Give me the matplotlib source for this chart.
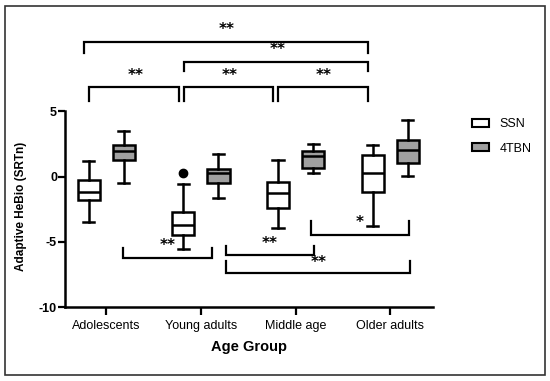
import matplotlib.pyplot as plt
from matplotlib.patches import Patch, Rectangle

plt.rcParams['font.family'] = ['Liberation Sans', 'DejaVu Sans']

groups = ["Adolescents", "Young adults", "Middle age", "Older adults"]

# whisker low, Q1, median, Q3, whisker high
ssn = [[-3.48, -1.82, -1.18, -0.28, 1.2],
       [-5.52, -4.5, -3.73, -2.71, -0.59],
       [-3.94, -2.38, -1.23, -0.41, 1.3],
       [-3.81, -1.18, 0.28, 1.64, 2.4]]
tbn = [[-0.49, 1.25, 1.97, 2.4, 3.5],
       [-1.61, -0.49, 0.26, 0.59, 1.76],
       [0.28, 0.66, 1.56, 1.97, 2.48],
       [0.03, 1.07, 2.02, 2.79, 4.32]]
ssn_outliers = [[], [0.3], [], []]

# brackets above: x1, x2, y bar, y leg end, label, label x, label y
top_brackets = [(-0.23, 2.77, 10.33, 9.44, "**", 1.27, 11.28),
                (0.82, 2.77, 8.8, 8.1, "**", 1.81, 9.69),
                (-0.18, 0.77, 6.88, 5.78, "**", 0.31, 7.77),
                (0.82, 1.76, 6.88, 5.78, "**", 1.3, 7.77),
                (1.81, 2.77, 6.88, 5.78, "**", 2.3, 7.77)]
# brackets below
low_brackets = [(0.18, 1.12, -6.24, -5.45, "**", 0.65, -5.28),
                (1.27, 2.2, -6.04, -5.36, "**", 1.73, -5.1),
                (1.27, 3.21, -7.39, -6.5, "**", 2.24, -6.55),
                (2.16, 3.2, -4.46, -3.44, "*", 2.68, -3.49)]


def stats(vals, fl):
    return [dict(whislo=v[0], q1=v[1], med=v[2], q3=v[3], whishi=v[4],
                 fliers=f) for v, f in zip(vals, fl)]


fig = plt.figure(figsize=(5.5, 3.81), dpi=100)
ax = fig.add_axes([0.119, 0.194, 0.668, 0.754])

pos = range(len(groups))
common = dict(widths=0.235, patch_artist=True, showfliers=True,
              whiskerprops=dict(lw=1.8, color='black'),
              capprops=dict(lw=1.8, color='black'),
              medianprops=dict(lw=1.8, color='black'),
              flierprops=dict(marker='o', markerfacecolor='black',
                              markeredgecolor='black', markersize=6))
ax.bxp(stats(ssn, ssn_outliers), positions=[p - 0.185 for p in pos],
       boxprops=dict(lw=1.8, edgecolor='black', facecolor='white'), **common)
ax.bxp(stats(tbn, [[]] * 4), positions=[p + 0.185 for p in pos],
       boxprops=dict(lw=1.8, edgecolor='black', facecolor='#a0a0a0'), **common)

for x1, x2, yb, yl, lab, tx, ty in top_brackets + low_brackets:
    ax.plot([x1, x1, x2, x2], [yl, yb, yb, yl], color='black', lw=1.6,
            clip_on=False, solid_joinstyle='miter')
    ax.text(tx, ty, lab, ha='center', va='center', fontsize=11,
            fontweight='bold', family='DejaVu Sans')

ax.set_xlim(-0.43, 3.45)
ax.set_ylim(-10, 12)
ax.set_xticks(list(pos))
ax.set_xticklabels(groups, fontsize=9)
ax.set_yticks([-10, -5, 0, 5])
ax.set_yticklabels(["-10", "-5", "0", "5"], fontsize=9, fontweight='bold')
ax.spines['top'].set_visible(False)
ax.spines['right'].set_visible(False)
ax.spines['left'].set_bounds(-10, 5)
for s in ['left', 'bottom']:
    ax.spines[s].set_linewidth(1.8)
ax.tick_params(axis='x', length=6, width=1.6, pad=3)
ax.tick_params(axis='y', length=5, width=1.6, pad=1)

ax.set_xlabel("Age Group", fontsize=10.5, fontweight='bold', labelpad=6)
ax.set_ylabel("Adaptive HeBio (SRTn)", fontsize=8.5, fontweight='bold')
ax.yaxis.set_label_coords(-0.105, 0.35)

handles = [Patch(facecolor='white', edgecolor='black', lw=1.5, label='SSN'),
           Patch(facecolor='#a0a0a0', edgecolor='black', lw=1.5, label='4TBN')]
fig.legend(handles=handles, loc='center left', bbox_to_anchor=(0.858, 0.642),
           frameon=False, fontsize=9, handlelength=1.4, handleheight=0.6,
           labelspacing=1.0, borderpad=0, borderaxespad=0, handletextpad=0.8)

fig.patches.append(Rectangle((5 / 550, 6 / 381), 540 / 550, 369 / 381,
                             transform=fig.transFigure, fill=False,
                             edgecolor='#333333', lw=1.2))

fig.savefig("out.png", dpi=100)
